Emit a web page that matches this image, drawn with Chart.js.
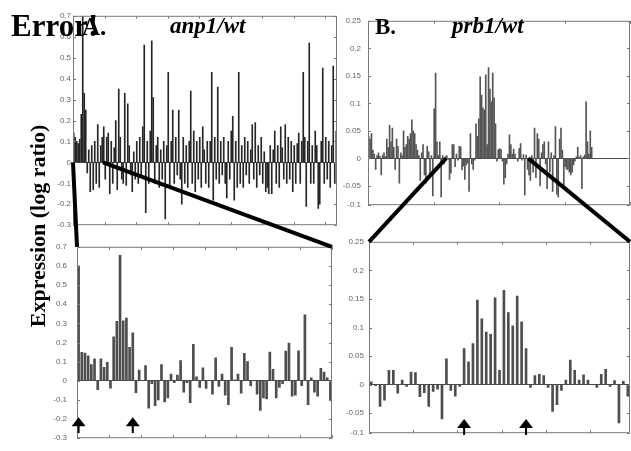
<!DOCTYPE html>
<html>
<head>
<meta charset="utf-8">
<script src="https://cdn.jsdelivr.net/npm/chart.js@4.4.1/dist/chart.umd.min.js"></script>
<style>
  body { margin: 0; background: #fff; }
  #fig { position: relative; width: 631px; height: 451px; overflow: hidden; background: #fff; }
  canvas { position: absolute; }
  #over { position: absolute; left: 0; top: 0; }
  .t { font-family: "Liberation Serif", "Times New Roman", serif; font-weight: bold; fill: #000; }
</style>
</head>
<body>
<div id="fig">
  <canvas id="topA"></canvas>
  <canvas id="botA"></canvas>
  <canvas id="topB"></canvas>
  <canvas id="botB"></canvas>
  <svg id="over" width="631" height="451">
    <g id="zoomLines" stroke="#000" stroke-width="4"></g>
    <text class="t" x="11" y="36" font-size="31">Error!</text>
    <text class="t" x="82" y="35" font-size="25">A.</text>
    <text class="t" x="170" y="33" font-size="23" font-style="italic">anp1/wt</text>
    <text class="t" x="375" y="34" font-size="23">B.</text>
    <text class="t" x="452" y="33" font-size="23" font-style="italic">prb1/wt</text>
    <text class="t" font-size="22" text-anchor="middle" transform="translate(45,226) rotate(-90)">Expression (log ratio)</text>
  </svg>
</div>
<script>
// anp1/wt, zoomed window (lower left plot)
const anpZoom = [
  0.60, 0.148, 0.145, 0.13, 0.085, 0.115, -0.046, 0.115, 0.07, 0.097,
  -0.038, 0.23, 0.31, 0.655, 0.313, 0.327, 0.175, 0.25, -0.062, 0.056,
  0.002, 0.08, -0.143, -0.015, -0.13, -0.1, 0.085, -0.11, -0.09, 0.035,
  -0.01, 0.03, 0.105, -0.06, -0.01, -0.115, 0.19, 0.02, -0.035, 0.068,
  -0.04, 0.0, -0.07, 0.12, -0.03, 0.035, -0.075, -0.125, 0.175, 0.005,
  0.035, -0.065, 0.143, 0.1, -0.025, 0.0, -0.07, -0.155, -0.09, -0.095,
  0.15, 0.06, -0.09, -0.035, -0.015, 0.155, 0.197, -0.08, -0.075, 0.157,
  -0.025, 0.345, -0.125, 0.015, -0.06, -0.08, 0.065, 0.045, 0.015, -0.1
];

// anp1/wt, whole chromosome (upper left plot)
const anpAll = [
  0.14, 0.12, 0.1, 0.09, 0.11, 0.23, 0.7, 0.33, 0.25, -0.05,
  0.06, -0.14, 0.08, -0.13, 0.1, -0.1, 0.18, -0.12, 0.08, 0.12,
  0.17, -0.08, 0.12, 0.14, -0.15, 0.1, -0.1, 0.07, 0.2, -0.13,
  0.35, 0.12, -0.08, -0.1, 0.33, -0.11, 0.28, 0.08, -0.06, -0.14,
  0.05, -0.08, 0.1, -0.1, 0.12, -0.06, 0.17, 0.56, -0.24, 0.1,
  -0.1, 0.15, 0.58, 0.31, -0.1, 0.08, 0.12, -0.12, 0.06, -0.08,
  0.1, -0.27, 0.08, 0.43, -0.12, 0.1, 0.25, -0.1, 0.12, -0.06,
  0.25, -0.08, -0.2, 0.12, -0.1, 0.08, -0.12, 0.1, 0.34, -0.1,
  0.15, -0.14, 0.1, -0.08, 0.12, -0.12, 0.17, 0.06, -0.1, 0.1,
  -0.12, 0.1, 0.43, -0.18, 0.12, -0.08, 0.36, -0.1, 0.1, -0.06,
  0.12, -0.1, -0.17, 0.1, -0.08, 0.15, 0.22, -0.18, 0.1, -0.12,
  0.43, -0.1, 0.08, -0.12, 0.12, -0.06, 0.1, -0.1, 0.06, 0.18,
  -0.08, 0.19, -0.12, 0.08, -0.06, 0.12, -0.1, 0.05, -0.14, -0.12,
  -0.15, 0.08, -0.15, 0.06, 0.15, -0.1, 0.08, -0.12, 0.17, 0.07,
  -0.08, 0.18, -0.1, 0.12, -0.08, 0.1, -0.14, 0.08, -0.1, 0.09,
  0.14, -0.1, 0.1, 0.43, 0.12, -0.21, 0.1, 0.57, -0.1, 0.08,
  -0.1, 0.15, 0.08, -0.22, -0.2, 0.1, 0.45, -0.1, 0.12, -0.08,
  0.1, -0.12, 0.08, 0.46, -0.1, 0.15
];

// prb1/wt, zoomed window (lower right plot)
const prbZoom = [
  0.005, -0.002, -0.038, -0.027, 0.025, 0.025, -0.015, 0.008, -0.003, 0.022,
  0.021, -0.021, -0.014, -0.038, -0.012, -0.008, -0.06, 0.045, -0.01, -0.02,
  -0.003, 0.063, 0.04, 0.072, 0.148, 0.115, 0.092, 0.088, 0.152, 0.025,
  0.165, 0.126, 0.103, 0.155, 0.11, 0.063, -0.005, 0.016, 0.018, 0.016,
  -0.005, -0.047, -0.035, -0.01, 0.008, 0.043, 0.025, 0.008, 0.017, 0.008,
  0.0, -0.005, 0.018, 0.027, -0.003, 0.007, -0.067, 0.006, -0.02
];

// prb1/wt, genes left and right of the window (upper right plot)
const prbBefore = [
  0.04, 0.035, 0.045, 0.015, 0.008, -0.02, 0.005, 0.01, 0.004, -0.03,
  0.006, 0.01, 0.003, 0.035, 0.02, 0.06, 0.03, 0.055, 0.02, -0.02,
  0.035, 0.022, -0.045, 0.01, 0.005, 0.05, 0.02, 0.025, 0.04, 0.035,
  0.045, 0.07, 0.05, 0.045, 0.025, 0.015, 0.005, -0.04, 0.01, 0.025,
  -0.03, -0.045, 0.022, 0.012, -0.03, 0.005, -0.068, 0.09, 0.155, 0.03,
  0.005, 0.03, -0.07, 0.005, -0.01, 0.003
];
const prbAfter = [
  -0.03, -0.04, 0.005, -0.025, 0.055, -0.035, 0.045, 0.035, -0.05, 0.01,
  0.025, 0.03, -0.01, -0.055, 0.03, -0.025, 0.01, -0.06, 0.005, 0.058,
  -0.065, -0.07, 0.035, 0.055, 0.015, -0.05, -0.015, -0.02, -0.02, -0.025,
  -0.03, -0.025, -0.012, -0.005, 0.003, 0.02, 0.002, 0.005, -0.055, 0.003,
  0.006, 0.103, 0.03, 0.008, 0.05, 0.02
];
const prbAll = [...prbBefore, ...prbZoom, ...prbAfter];

const anpSlots = 176;
const prbSlots = 188;

const tickLabelsA = ['-0.3', '-0.2', '-0.1', '0', '0.1', '0.2', '0.3', '0.4', '0.5', '0.6', '0.7'];
const tickLabelsB = ['-0.1', '-0.05', '0', '0.05', '0.1', '0.15', '0.2', '0.25'];

// arrows under the lower plots (gene index)
const arrowsA = [0, 17];
const arrowsB = [21, 35];

function idx(n) {
  return Array.from({ length: n }, (_, i) => i + 1);
}

// matlab style box with inward ticks, plus the arrows
const frame = {
  id: 'frame',
  afterDraw(chart, args, o) {
    const { ctx, chartArea: a, scales: { x, y } } = chart;
    ctx.save();
    ctx.strokeStyle = '#7a7a7a';
    ctx.lineWidth = 1;
    ctx.beginPath();
    ctx.rect(a.left + 0.5, a.top + 0.5, a.width - 1, a.height - 1);
    y.ticks.forEach(t => {
      const py = Math.round(y.getPixelForValue(t.value)) + 0.5;
      ctx.moveTo(a.left, py); ctx.lineTo(a.left + 3, py);
      ctx.moveTo(a.right - 3, py); ctx.lineTo(a.right, py);
    });
    const n = chart.data.labels.length;
    for (let k = 0; k <= n; k += o.every) {
      const px = Math.round(x.getPixelForValue(k - 0.5)) + 0.5;
      ctx.moveTo(px, a.top); ctx.lineTo(px, a.top + 3);
      ctx.moveTo(px, a.bottom); ctx.lineTo(px, a.bottom - 3);
    }
    ctx.stroke();
    ctx.fillStyle = '#000';
    (o.arrows || []).forEach(i => {
      const px = x.getPixelForValue(i);
      const py = y.getPixelForValue(o.arrowAt);
      ctx.beginPath();
      ctx.moveTo(px, py);
      ctx.lineTo(px - 7, py + 9);
      ctx.lineTo(px + 7, py + 9);
      ctx.closePath();
      ctx.fill();
      ctx.fillRect(px - 1, py + 8, 2, 8);
    });
    ctx.restore();
  }
};

function panel(id, p) {
  const c = document.getElementById(id);
  c.width = p.r - p.l + p.axisW + 4;
  c.height = p.b - p.t + 12;
  c.style.left = (p.l - p.axisW) + 'px';
  c.style.top = (p.t - 6) + 'px';
  return new Chart(c, {
    type: 'bar',
    data: {
      labels: p.labels,
      datasets: [{
        data: p.values,
        backgroundColor: p.color,
        barThickness: p.bar
      }]
    },
    options: {
      responsive: false,
      animation: false,
      devicePixelRatio: 1,
      events: [],
      layout: { padding: { left: 0, right: 4, top: 6, bottom: 6 } },
      plugins: {
        legend: { display: false },
        tooltip: { enabled: false },
        frame: { every: p.every, arrows: p.arrows, arrowAt: p.arrowAt }
      },
      scales: {
        x: { display: false, offset: true },
        y: {
          min: p.min,
          max: p.max,
          afterFit: s => { s.width = p.axisW; },
          afterBuildTicks: s => {
            s.ticks = p.ticks.map(v => ({ value: Math.max(Number(v), p.min) }));
          },
          border: { display: false },
          grid: {
            drawTicks: false,
            color: ctx => (ctx.tick && ctx.tick.value === 0 ? '#4a4a4a' : 'rgba(0,0,0,0)')
          },
          ticks: {
            autoSkip: false,
            padding: p.pad,
            color: '#666',
            font: { family: 'Liberation Sans, Arial, sans-serif', size: 8 },
            callback: (v, i) => p.ticks[i]
          }
        }
      }
    },
    plugins: [frame]
  });
}

const topA = panel('topA', {
  l: 73, r: 337, t: 15, b: 226, axisW: 34, pad: 2,
  labels: idx(anpSlots), values: anpAll, color: '#262626', bar: 1,
  min: -0.3, max: 0.7, ticks: tickLabelsA, every: 21
});
const botA = panel('botA', {
  l: 77, r: 332, t: 238, b: 447, axisW: 34, pad: 10,
  labels: idx(anpZoom.length), values: anpZoom, color: '#4e4e4e', bar: 2,
  min: -0.3, max: 0.7, ticks: tickLabelsA, every: 10,
  arrows: arrowsA, arrowAt: -0.19
});
const topB = panel('topB', {
  l: 368, r: 630, t: 15, b: 211, axisW: 30, pad: 7,
  labels: idx(prbSlots), values: prbAll, color: '#555', bar: 1,
  min: -0.085, max: 0.25, ticks: tickLabelsB, every: 47
});
const botB = panel('botB', {
  l: 369, r: 630, t: 238, b: 437, axisW: 30, pad: 5,
  labels: idx(prbZoom.length), values: prbZoom, color: '#4e4e4e', bar: 2,
  min: -0.085, max: 0.25, ticks: tickLabelsB, every: 10,
  arrows: arrowsB, arrowAt: -0.06
});

// thick lines joining each zoom window to its lower plot
function onPage(chart, xv, yv) {
  const c = chart.canvas;
  return [c.offsetLeft + chart.scales.x.getPixelForValue(xv), c.offsetTop + chart.scales.y.getPixelForValue(yv)];
}
function corner(chart, side) {
  const c = chart.canvas, a = chart.chartArea;
  return [c.offsetLeft + (side === 'left' ? a.left : a.right), c.offsetTop + a.top];
}
const windowA = [0, 20];
const windowB = [prbBefore.length, prbBefore.length + prbZoom.length];
const segs = [
  [onPage(topA, windowA[0] - 0.5, 0), corner(botA, 'left')],
  [onPage(topA, windowA[1] - 0.5, 0), corner(botA, 'right')],
  [onPage(topB, windowB[0] - 0.5, 0), corner(botB, 'left')],
  [onPage(topB, windowB[1] - 0.5, 0), corner(botB, 'right')]
];
const g = document.getElementById('zoomLines');
segs.forEach(([p, q]) => {
  const l = document.createElementNS('http://www.w3.org/2000/svg', 'line');
  l.setAttribute('x1', p[0]); l.setAttribute('y1', p[1]);
  l.setAttribute('x2', q[0]); l.setAttribute('y2', q[1]);
  g.appendChild(l);
});
</script>
</body>
</html>
